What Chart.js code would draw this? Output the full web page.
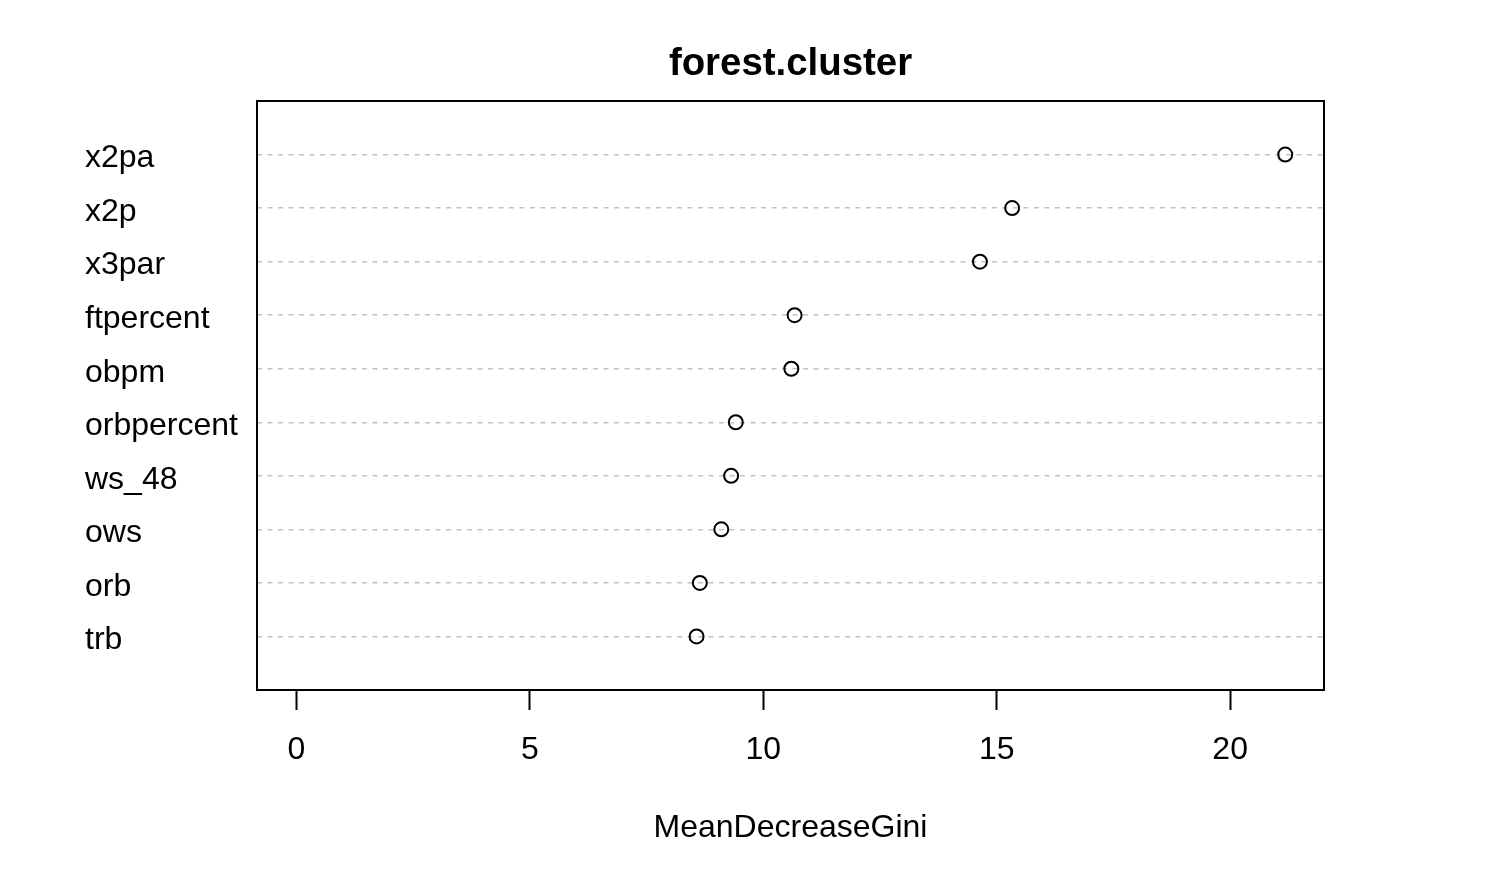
<!DOCTYPE html>
<html>
<head>
<meta charset="utf-8">
<script src="https://cdn.jsdelivr.net/npm/chart.js@4"></script>
<style>
  html, body { margin: 0; padding: 0; background: #fff; }
  #wrap { width: 1508px; height: 884px; position: relative; }
</style>
</head>
<body>
<div id="wrap"><canvas id="c"></canvas></div>
<script>
// Categories listed top to bottom
const categories = ["x2pa", "x2p", "x3par", "ftpercent", "obpm", "orbpercent", "ws_48", "ows", "orb", "trb"];
const meanDecreaseGini = [21.18, 15.33, 14.64, 10.67, 10.60, 9.41, 9.31, 9.10, 8.64, 8.57];
const xTickValues = [0, 5, 10, 15, 20];
const chartTitle = "forest.cluster";
const xAxisTitle = "MeanDecreaseGini";

const n = categories.length;
const points = categories.map((c, i) => ({ x: meanDecreaseGini[i], y: n - i }));

const FONT = "'Liberation Sans', Arial, Helvetica, sans-serif";

const boxPlugin = {
  id: 'box',
  beforeDatasetsDraw(chart) {
    const a = chart.chartArea;
    const ctx = chart.ctx;
    ctx.save();
    ctx.strokeStyle = '#000';
    ctx.lineWidth = 2;
    ctx.strokeRect(a.left, a.top, a.right - a.left, a.bottom - a.top);
    ctx.restore();
  }
};

// Title centred over the plotting region (as R does)
const plotTitlePlugin = {
  id: 'plotTitle',
  afterDraw(chart) {
    const a = chart.chartArea;
    const ctx = chart.ctx;
    ctx.save();
    ctx.fillStyle = '#000';
    ctx.font = "bold 38.4px " + FONT;
    ctx.textAlign = 'center';
    ctx.textBaseline = 'middle';
    ctx.fillText(chartTitle, (a.left + a.right) / 2, 64);
    ctx.restore();
  }
};

new Chart(document.getElementById('c'), {
  type: 'scatter',
  data: {
    datasets: [{
      data: points,
      pointStyle: 'circle',
      pointRadius: 7,
      pointHoverRadius: 7,
      pointBorderWidth: 2,
      pointBorderColor: '#000',
      pointBackgroundColor: 'rgba(0,0,0,0)'
    }]
  },
  options: {
    responsive: true,
    maintainAspectRatio: false,
    animation: false,
    events: [],
    layout: { padding: { left: 85, right: 184, top: 101, bottom: 34 } },
    plugins: {
      legend: { display: false },
      tooltip: { enabled: false },
      title: { display: false }
    },
    scales: {
      x: {
        type: 'linear',
        position: 'bottom',
        min: -0.846,
        max: 22.01,
        afterBuildTicks(scale) {
          scale.ticks = xTickValues.map(v => ({ value: v }));
        },
        afterFit(scale) { scale.height = 160; },
        grid: {
          drawOnChartArea: false,
          drawTicks: true,
          tickLength: 20,
          tickWidth: 2,
          tickColor: '#000',
          color: '#000'
        },
        border: { display: false },
        ticks: {
          color: '#000',
          font: { family: FONT, size: 32 },
          padding: 21,
          maxRotation: 0,
          autoSkip: false
        },
        title: {
          display: true,
          text: xAxisTitle,
          color: '#000',
          font: { family: FONT, size: 32 },
          padding: { top: 0, bottom: 3 }
        }
      },
      y: {
        type: 'linear',
        position: 'left',
        min: 0,
        max: n + 1,
        afterBuildTicks(scale) {
          const t = [];
          for (let v = 0; v <= n + 1; v++) t.push({ value: v });
          scale.ticks = t;
        },
        afterFit(scale) { scale.width = 172; },
        grid: {
          drawOnChartArea: true,
          drawTicks: false,
          lineWidth: 1.5,
          color: (ctx) => {
            const v = ctx.tick ? ctx.tick.value : null;
            return (v >= 1 && v <= n) ? '#c2c2c2' : 'rgba(0,0,0,0)';
          }
        },
        border: { display: false, dash: [5, 5.5] },
        ticks: {
          color: '#000',
          font: { family: FONT, size: 32 },
          crossAlign: 'far',
          padding: 0,
          labelOffset: 4,
          autoSkip: false,
          callback: (v) => (v >= 1 && v <= n) ? categories[n - v] : ''
        }
      }
    }
  },
  plugins: [boxPlugin, plotTitlePlugin]
});
</script>
</body>
</html>
